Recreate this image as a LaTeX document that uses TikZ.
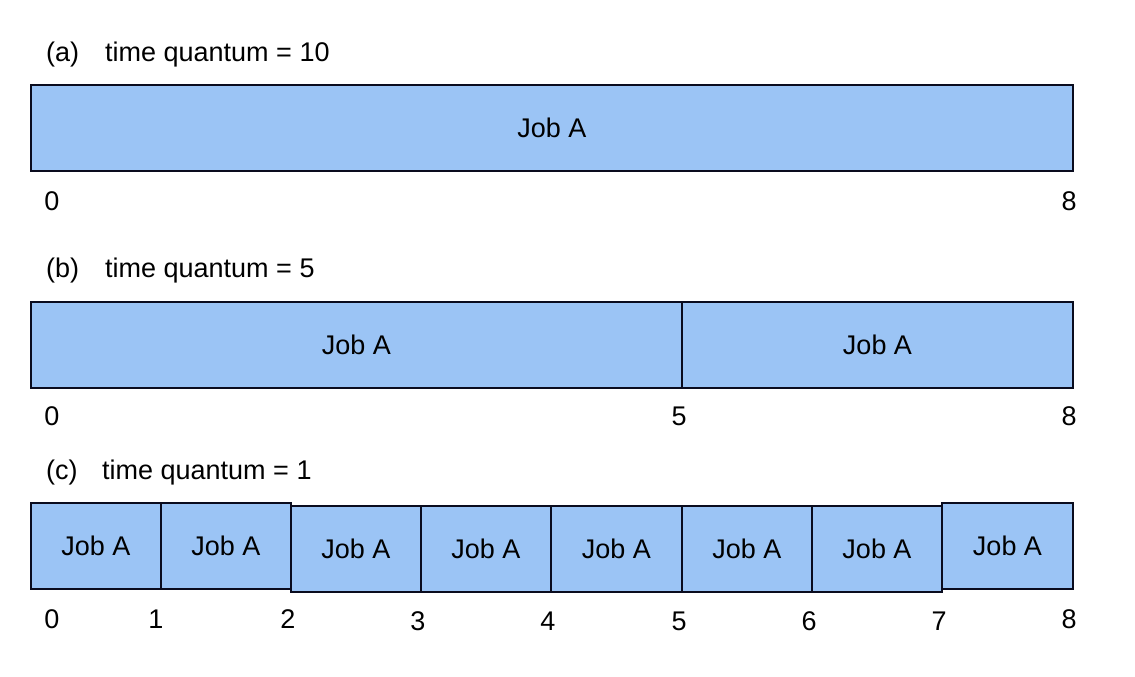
\documentclass[tikz,border=0pt]{standalone}
\usepackage{fontspec}
\setmainfont{Liberation Sans}
\definecolor{jobfill}{RGB}{155,196,245}
\definecolor{jobline}{RGB}{10,12,30}
\begin{document}
\begin{tikzpicture}[x=1pt,y=-1pt,
  jobbox/.style={draw=jobline, fill=jobfill, line width=2.6pt, inner sep=0pt,
    font=\fontsize{27}{30}\selectfont, text=black},
  lbl/.style={inner sep=0pt, font=\fontsize{27}{30}\selectfont},
  ttl/.style={inner sep=0pt, anchor=west, font=\fontsize{27}{30}\selectfont}]
\useasboundingbox (0,0) rectangle (1135,677);
% (a)
\node[ttl] (ta) at (46,55) {(a)};
\node[ttl] (tqa) at (105,55) {time quantum = 10};
\node[jobbox, minimum width=1042pt, minimum height=86pt] (a1) at (552,128) {Job A};
\node[lbl] (a0) at (52,201) {0};
\node[lbl] (a8) at (1069,201) {8};
% (b)
\node[ttl] (tb) at (46,271) {(b)};
\node[ttl] (tqb) at (105,271) {time quantum = 5};
\node[jobbox, minimum width=651pt, minimum height=86pt] (b1) at (356.5,345) {Job A};
\node[jobbox, minimum width=391pt, minimum height=86pt] (b2) at (877.5,345) {Job A};
\node[lbl] (b0) at (52,416) {0};
\node[lbl] (b5) at (679,416) {5};
\node[lbl] (b8) at (1069,416) {8};
% (c)
\node[ttl] (tc) at (46,473) {(c)};
\node[ttl] (tqc) at (102,473) {time quantum = 1};
\node[jobbox, minimum width=130pt, minimum height=86pt] (c1) at (96,546) {Job A};
\node[jobbox, minimum width=130pt, minimum height=86pt] (c2) at (226,546) {Job A};
\node[jobbox, minimum width=130pt, minimum height=86pt] (c3) at (356,549) {Job A};
\node[jobbox, minimum width=130pt, minimum height=86pt] (c4) at (486,549) {Job A};
\node[jobbox, minimum width=131pt, minimum height=86pt] (c5) at (616.5,549) {Job A};
\node[jobbox, minimum width=130pt, minimum height=86pt] (c6) at (747,549) {Job A};
\node[jobbox, minimum width=130pt, minimum height=86pt] (c7) at (877,549) {Job A};
\node[jobbox, minimum width=131pt, minimum height=86pt] (c8) at (1007.5,546) {Job A};
\node[lbl] (c0l) at (52,619) {0};
\node[lbl] (c1l) at (156,619) {1};
\node[lbl] (c2l) at (288,619) {2};
\node[lbl] (c3l) at (418,621) {3};
\node[lbl] (c4l) at (548,621) {4};
\node[lbl] (c5l) at (679,621) {5};
\node[lbl] (c6l) at (809,621) {6};
\node[lbl] (c7l) at (939,621) {7};
\node[lbl] (c8l) at (1069,619) {8};
\end{tikzpicture}
\end{document}
